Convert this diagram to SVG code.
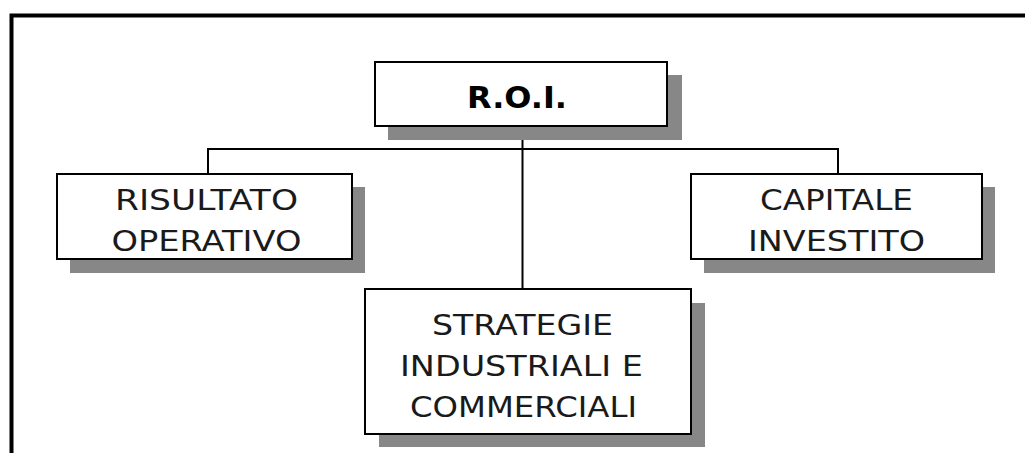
<svg xmlns="http://www.w3.org/2000/svg" width="1025" height="453" viewBox="0 0 1025 453">
<style>
.frame{fill:none;stroke:#000;stroke-width:4}
.shadow{fill:#878787}
.box{fill:#fff;stroke:#000;stroke-width:2}
.lbl{font-family:"DejaVu Sans","Liberation Sans",sans-serif;font-size:28px;fill:#1a1a1a;text-anchor:middle}
.bold{font-weight:bold;font-size:30px;fill:#000}
.conn{fill:none;stroke:#000;stroke-width:2}
</style>
<rect width="1025" height="453" fill="#fff"/>
<rect class="frame" x="11.5" y="15.5" width="1030" height="460"/>
<g id="connectors">
<line class="conn" x1="522.5" y1="126" x2="522.5" y2="289"/>
<polyline class="conn" points="208,174 208,149 838,149 838,174"/>
</g>
<g id="roi">
<rect class="shadow" x="388" y="75" width="294" height="65"/>
<rect class="box" x="375" y="62" width="292" height="64"/>
<text class="lbl bold" x="517" y="108" textLength="100" lengthAdjust="spacingAndGlyphs">R.O.I.</text>
</g>
<g id="risultato">
<rect class="shadow" x="70" y="187" width="295" height="86"/>
<rect class="box" x="57" y="174" width="295" height="85"/>
<text class="lbl" x="206.5" y="210" textLength="183" lengthAdjust="spacingAndGlyphs">RISULTATO</text>
<text class="lbl" x="206.5" y="251" textLength="190" lengthAdjust="spacingAndGlyphs">OPERATIVO</text>
</g>
<g id="capitale">
<rect class="shadow" x="704" y="187" width="291" height="86"/>
<rect class="box" x="691" y="174" width="291" height="85"/>
<text class="lbl" x="836.5" y="210" textLength="153" lengthAdjust="spacingAndGlyphs">CAPITALE</text>
<text class="lbl" x="836.5" y="251" textLength="177" lengthAdjust="spacingAndGlyphs">INVESTITO</text>
</g>
<g id="strategie">
<rect class="shadow" x="379" y="303" width="326" height="144"/>
<rect class="box" x="365" y="289" width="326" height="145"/>
<text class="lbl" x="522.5" y="335" textLength="181" lengthAdjust="spacingAndGlyphs">STRATEGIE</text>
<text class="lbl" x="521.5" y="376" textLength="243" lengthAdjust="spacingAndGlyphs">INDUSTRIALI E</text>
<text class="lbl" x="523.5" y="417" textLength="227" lengthAdjust="spacingAndGlyphs">COMMERCIALI</text>
</g>
</svg>
